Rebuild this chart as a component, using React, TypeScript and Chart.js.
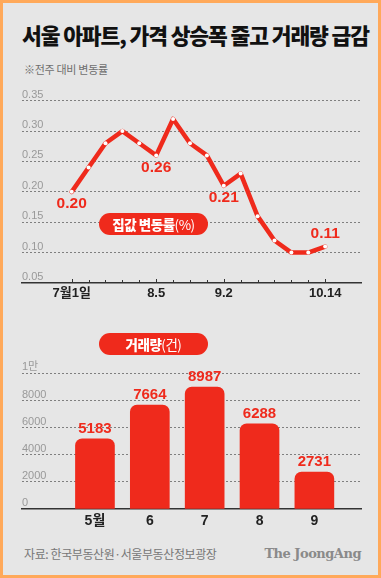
import React, { useEffect, useRef } from "react";
import { Chart, registerables } from "chart.js";

Chart.register(...registerables);

// ---- data ----
const weekDates = ["7.1", "7.8", "7.15", "7.22", "7.29", "8.5", "8.12", "8.19", "8.26", "9.2", "9.9", "9.16", "9.23", "9.30", "10.7", "10.14"];
const weeklyRates = [0.2, 0.24, 0.28, 0.3, 0.28, 0.26, 0.32, 0.28, 0.26, 0.21, 0.23, 0.16, 0.12, 0.1, 0.1, 0.11];
const rateTickIdx = [0, 5, 9, 15];
const rateTickText = ["7월1일", "8.5", "9.2", "10.14"];
const rateLabelIdx = [0, 5, 9, 15];
const rateLabelAbove = [false, false, false, true];

const months = ["5월", "6", "7", "8", "9"];
const volumes = [5183, 7664, 8987, 6288, 2731];

const RED = "#EF2A1C";
const FONT = "'Liberation Sans', 'Noto Sans CJK KR', sans-serif";

const tickMarksPlugin = {
  id: "tickMarks",
  afterDatasetsDraw(chart: any) {
    const x = chart.scales.x;
    const bottom = chart.chartArea.bottom;
    const ctx = chart.ctx;
    ctx.save();
    ctx.strokeStyle = "#333";
    ctx.lineWidth = 1;
    weekDates.forEach((_, i) => {
      const px = Math.round(x.getPixelForValue(i)) + 0.5;
      const len = rateTickIdx.includes(i) ? 4 : 3;
      ctx.beginPath();
      ctx.moveTo(px, bottom);
      ctx.lineTo(px, bottom - len);
      ctx.stroke();
    });
    ctx.restore();
  },
};

const rateLabelsPlugin = {
  id: "rateLabels",
  afterDatasetsDraw(chart: any) {
    const ctx = chart.ctx;
    const meta = chart.getDatasetMeta(0);
    ctx.save();
    ctx.fillStyle = RED;
    ctx.font = `bold 15.5px ${FONT}`;
    ctx.textAlign = "center";
    ctx.textBaseline = "middle";
    rateLabelIdx.forEach((idx, k) => {
      const pt = meta.data[idx];
      const dy = rateLabelAbove[k] ? -13 : 12;
      ctx.fillText(weeklyRates[idx].toFixed(2), pt.x, pt.y + dy);
    });
    ctx.restore();
  },
};

const barLabelsPlugin = {
  id: "barLabels",
  afterDatasetsDraw(chart: any) {
    const ctx = chart.ctx;
    const meta = chart.getDatasetMeta(0);
    ctx.save();
    ctx.fillStyle = RED;
    ctx.font = `bold 15px ${FONT}`;
    ctx.textAlign = "center";
    ctx.textBaseline = "middle";
    meta.data.forEach((bar: any, i: number) => {
      ctx.fillText(String(volumes[i]), bar.x, bar.y - 10);
    });
    ctx.restore();
  },
};

function LineChart() {
  const ref = useRef<HTMLCanvasElement>(null);
  useEffect(() => {
    const chart = new Chart(ref.current!, {
      type: "line",
      data: {
        datasets: [
          {
            data: weeklyRates.map((v, i) => ({ x: i, y: v })),
            borderColor: RED,
            borderWidth: 4.5,
            borderJoinStyle: "round",
            borderCapStyle: "round",
            tension: 0,
            pointRadius: 2,
            pointBackgroundColor: "#fff",
            pointBorderWidth: 0,
          },
        ],
      },
      options: {
        responsive: false,
        animation: false,
        devicePixelRatio: 1,
        layout: { padding: { top: 20.7, left: 22, right: 20, bottom: 5.4 } },
        plugins: { legend: { display: false }, tooltip: { enabled: false } },
        scales: {
          x: {
            type: "linear",
            min: -2.94,
            max: 17.12,
            grid: { display: false, drawTicks: false },
            border: { display: true, color: "#333", width: 1.5 },
            afterBuildTicks: (s: any) => {
              s.ticks = rateTickIdx.map((v) => ({ value: v }));
            },
            ticks: {
              padding: 3,
              color: "#222",
              font: { family: FONT, size: 13, weight: "bold" },
              maxRotation: 0,
              autoSkip: false,
              callback: (v: any) => {
                const k = rateTickIdx.indexOf(Number(v));
                return k >= 0 ? rateTickText[k] : "";
              },
            },
          },
          y: {
            min: 0.05,
            max: 0.35,
            grid: {
              drawTicks: false,
              color: (c: any) => (c.tick && Math.abs(c.tick.value - 0.05) < 1e-6 ? "rgba(0,0,0,0)" : "#7f7f7f"),
              lineWidth: 1,
            },
            border: { display: false, dash: [2, 2] },
            ticks: {
              stepSize: 0.05,
              mirror: true,
              padding: 0,
              labelOffset: -6,
              color: "#999",
              font: { family: FONT, size: 11 },
              callback: (v: any) => Number(v).toFixed(2),
            },
          },
        },
      },
      plugins: [tickMarksPlugin, rateLabelsPlugin],
    } as any);
    return () => chart.destroy();
  }, []);
  return <canvas ref={ref} width={381} height={230} style={{ position: "absolute", left: 0, top: 80 }} />;
}

function BarChart() {
  const ref = useRef<HTMLCanvasElement>(null);
  useEffect(() => {
    const chart = new Chart(ref.current!, {
      type: "bar",
      data: {
        datasets: [
          {
            data: volumes.map((v, i) => ({ x: i, y: v })),
            backgroundColor: RED,
            barThickness: 39,
            borderRadius: { topLeft: 7, topRight: 7, bottomLeft: 0, bottomRight: 0 },
            borderSkipped: "bottom",
          },
        ],
      },
      options: {
        responsive: false,
        animation: false,
        devicePixelRatio: 1,
        layout: { padding: { top: 43.4, left: 22, right: 20, bottom: 6.2 } },
        plugins: { legend: { display: false }, tooltip: { enabled: false } },
        scales: {
          x: {
            type: "linear",
            min: -1.33,
            max: 4.85,
            offset: false,
            grid: { display: false, drawTicks: false },
            border: { display: true, color: "#333", width: 1.5 },
            afterBuildTicks: (s: any) => {
              s.ticks = months.map((_, i) => ({ value: i }));
            },
            ticks: {
              padding: 4,
              color: "#222",
              font: { family: FONT, size: 14, weight: "bold" },
              maxRotation: 0,
              autoSkip: false,
              callback: (v: any) => months[Number(v)] ?? "",
            },
          },
          y: {
            min: 0,
            max: 10000,
            grid: {
              drawTicks: false,
              color: (c: any) => (c.tick && c.tick.value === 0 ? "rgba(0,0,0,0)" : "#7f7f7f"),
              lineWidth: 1,
            },
            border: { display: false, dash: [2, 2] },
            ticks: {
              stepSize: 2000,
              mirror: true,
              padding: 0,
              labelOffset: -6,
              color: "#999",
              font: { family: FONT, size: 11 },
              callback: (v: any) => (Number(v) === 10000 ? "1만" : String(v)),
            },
          },
        },
      },
      plugins: [barLabelsPlugin],
    } as any);
    return () => chart.destroy();
  }, []);
  return <canvas ref={ref} width={381} height={210} style={{ position: "absolute", left: 0, top: 330 }} />;
}

const pill = (top: number, main: string, sub: string) => (
  <div
    style={{
      position: "absolute",
      left: 99,
      top,
      width: 109,
      height: 22,
      borderRadius: 11,
      background: RED,
      color: "#fff",
      display: "flex",
      alignItems: "center",
      justifyContent: "center",
      fontFamily: "'Noto Sans CJK KR', sans-serif",
      fontSize: 13.5,
      fontWeight: 900,
      letterSpacing: -0.5,
      lineHeight: "22px",
    }}
  >
    {main}
    <span style={{ fontWeight: 400 }}>{sub}</span>
  </div>
);

export default function App() {
  useEffect(() => {
    document.body.style.margin = "0";
  }, []);
  return (
    <div style={{ position: "relative", width: 381, height: 578, background: "#E6E6E6", overflow: "hidden" }}>
      <div
        style={{
          position: "absolute",
          left: 22,
          top: 20,
          fontFamily: "'Noto Sans CJK KR', sans-serif",
          fontWeight: 900,
          fontSize: 21.5,
          letterSpacing: -1.1,
          color: "#111",
          whiteSpace: "nowrap",
          lineHeight: "30px",
        }}
      >
        서울 아파트, 가격 상승폭 줄고 거래량 급감
      </div>
      <div
        style={{
          position: "absolute",
          left: 24,
          top: 61,
          fontFamily: "'Noto Sans CJK KR', sans-serif",
          fontSize: 11,
          color: "#6f6f6f",
          lineHeight: "16px",
          letterSpacing: -0.3,
        }}
      >
        ※전주 대비 변동률
      </div>
      <LineChart />
      <BarChart />
      {pill(213, "집값 변동률", "(%)")}
      {pill(333, "거래량", "(건)")}
      <div
        style={{
          position: "absolute",
          left: 24,
          top: 545,
          fontFamily: "'Noto Sans CJK KR', sans-serif",
          fontSize: 12,
          color: "#777",
          lineHeight: "18px",
          letterSpacing: -0.4,
        }}
      >
        자료: 한국부동산원·서울부동산정보광장
      </div>
      <div
        style={{
          position: "absolute",
          right: 20,
          top: 544,
          fontFamily: "'DejaVu Serif', 'Liberation Serif', serif",
          fontWeight: 700,
          fontSize: 13,
          color: "#8a8a8a",
          lineHeight: "20px",
          letterSpacing: -0.5,
        }}
      >
        The JoongAng
      </div>
      <div
        style={{
          position: "absolute",
          inset: 0,
          border: "3px solid #FFA95A",
          boxSizing: "border-box",
          pointerEvents: "none",
        }}
      />
    </div>
  );
}
